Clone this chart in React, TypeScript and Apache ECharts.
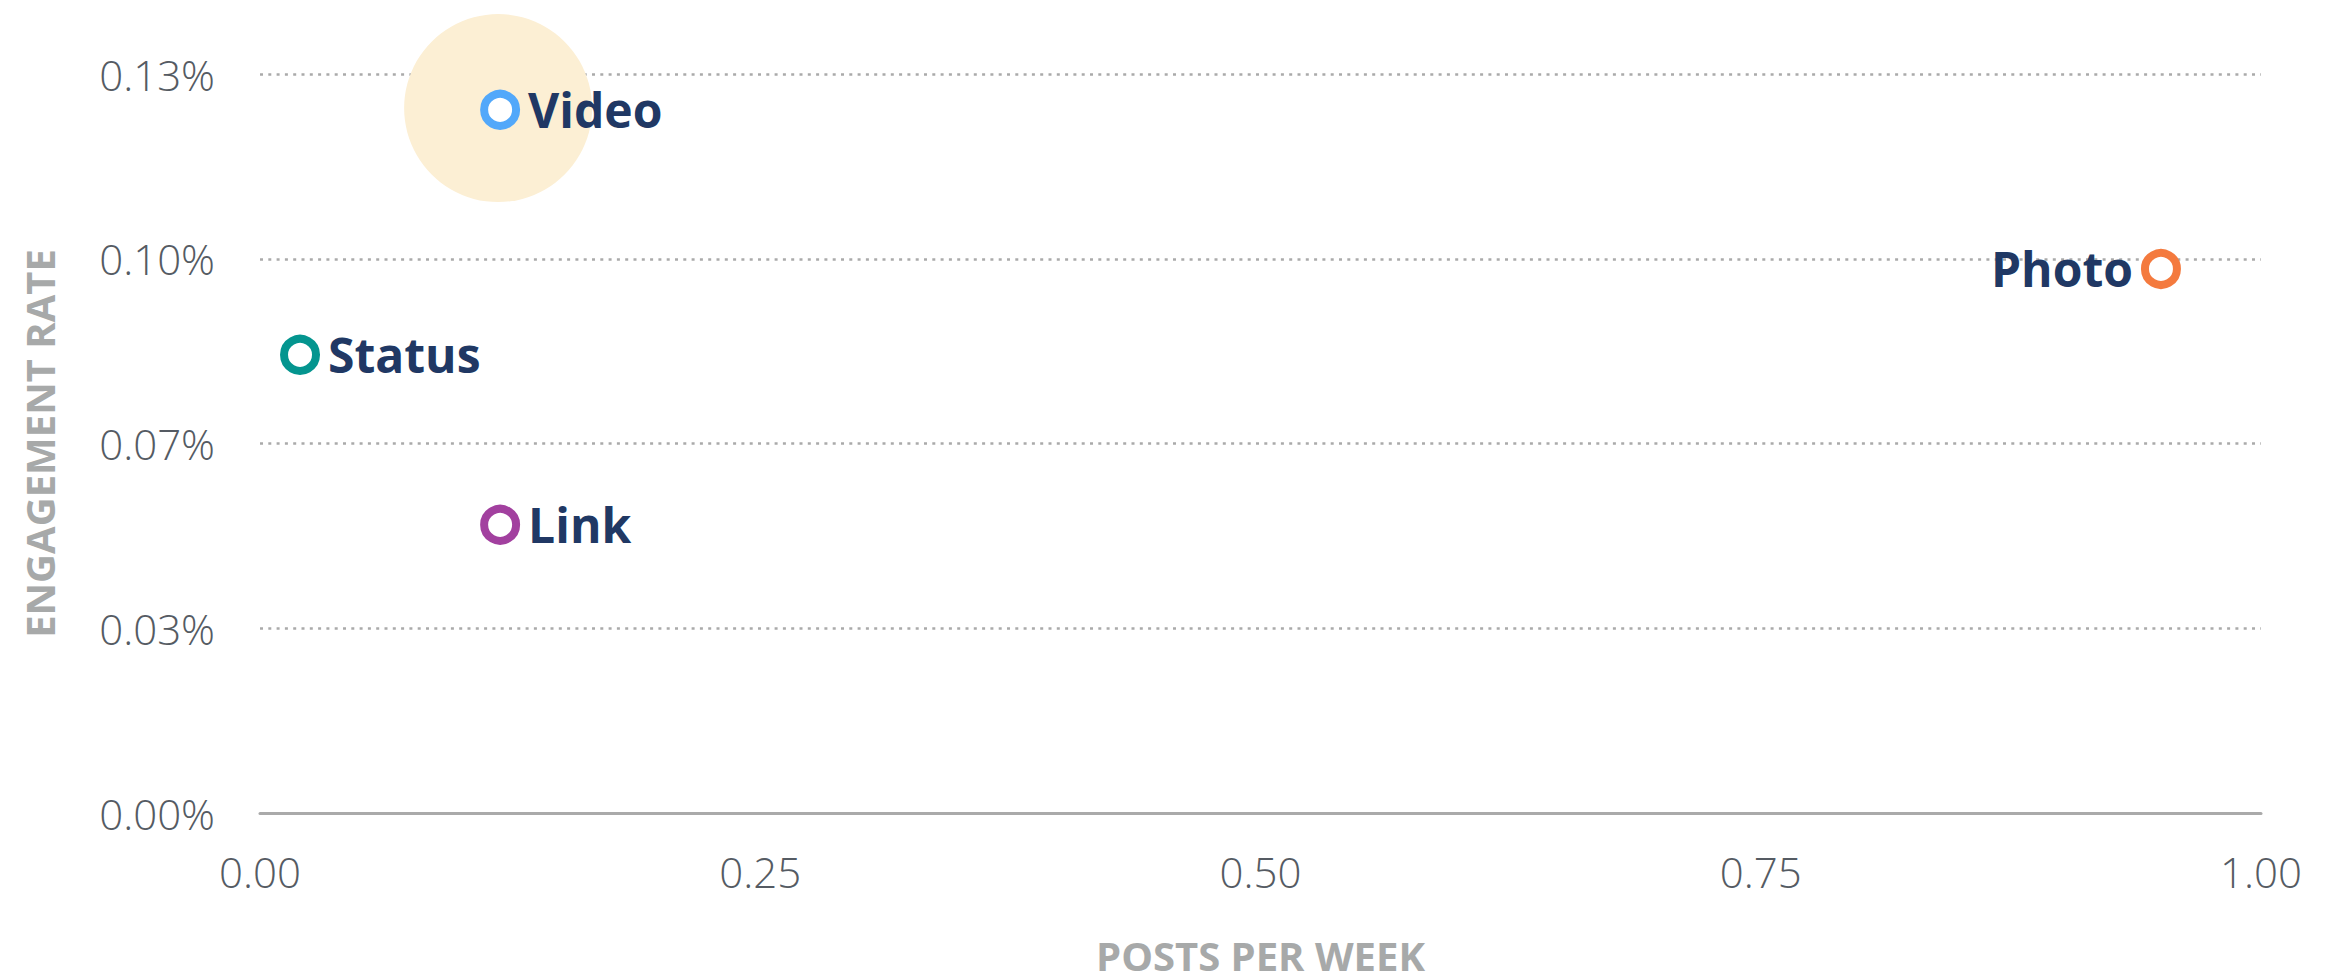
import React, { useEffect, useRef } from "react";
import * as echarts from "echarts";

// ---- data ----
const categories = ["Video", "Photo", "Status", "Link"];
const postsPerWeek = [0.12, 0.95, 0.02, 0.12];
const engagementRate = [0.1237, 0.0957, 0.0806, 0.0507];
const labelSide = ["right", "left", "right", "right"];

const highlightX = [0.119];
const highlightY = [0.124];

const xTickLabels = ["0.00", "0.25", "0.50", "0.75", "1.00"];
const yTickLabels = ["0.00%", "0.03%", "0.07%", "0.10%", "0.13%"];

const xMin = 0;
const xMax = 1;
const xInterval = 0.25;
const yMin = 0;
const yMax = 0.13;
const yInterval = 0.0325;

// ---- style ----
const ringColors = ["#52a8fa", "#f47a3e", "#04958f", "#a2409f"];
const labelColor = "#203864";
const tickColor = "#555b63";
const titleColor = "#a7a9a9";
const gridColor = "#aaaaaa";
const bubbleColor = "#fcefd4";
const FONT = "'Open Sans', 'Noto Sans', sans-serif";

export default function App() {
  const ref = useRef<HTMLDivElement>(null);

  useEffect(() => {
    if (!ref.current) return;
    const chart = echarts.init(ref.current, null, { renderer: "svg" });

    const pointData = categories.map((name, i) => ({
      name,
      value: [postsPerWeek[i], engagementRate[i]],
      itemStyle: {
        color: "#ffffff",
        borderColor: ringColors[i],
        borderWidth: 8,
        opacity: 1,
      },
      label: { position: labelSide[i] },
    }));

    const bubbleData = highlightX.map((x, i) => ({ value: [x, highlightY[i]] }));

    chart.setOption({
      animation: false,
      backgroundColor: "#ffffff",
      grid: { left: 260, right: 67, top: 74, bottom: 159, containLabel: false },
      xAxis: {
        type: "value",
        min: xMin,
        max: xMax,
        interval: xInterval,
        name: "POSTS PER WEEK",
        nameLocation: "middle",
        nameGap: 127,
        nameTextStyle: {
          fontFamily: FONT,
          fontWeight: "bold",
          fontSize: 40,
          lineHeight: 30,
          color: titleColor,
        },
        axisLine: { show: true, lineStyle: { color: gridColor, width: 3 } },
        axisTick: { show: false },
        splitLine: { show: false },
        axisLabel: {
          margin: 37,
          fontFamily: FONT,
          fontWeight: 300,
          fontSize: 42,
          color: tickColor,
          formatter: (v: number) => xTickLabels[Math.round((v - xMin) / xInterval)] ?? "",
        },
      },
      yAxis: {
        type: "value",
        min: yMin,
        max: yMax,
        interval: yInterval,
        name: "ENGAGEMENT RATE",
        nameLocation: "middle",
        nameGap: 201,
        nameTextStyle: { fontFamily: FONT, fontWeight: "bold", fontSize: 40, color: titleColor },
        axisLine: { show: false },
        axisTick: { show: false },
        splitLine: {
          show: true,
          lineStyle: { color: gridColor, width: 2.5, type: [3, 5.3] },
        },
        axisLabel: {
          margin: 45,
          fontFamily: FONT,
          fontWeight: 300,
          fontSize: 42,
          color: tickColor,
          formatter: (v: number) => yTickLabels[Math.round((v - yMin) / yInterval)] ?? "",
        },
      },
      series: [
        {
          type: "scatter",
          z: 1,
          silent: true,
          symbol: "circle",
          symbolSize: 188,
          itemStyle: { color: bubbleColor, opacity: 1 },
          data: bubbleData,
        },
        {
          type: "scatter",
          z: 3,
          symbol: "circle",
          symbolSize: 32,
          itemStyle: { opacity: 1 },
          label: {
            show: true,
            formatter: "{b}",
            distance: 8,
            fontFamily: FONT,
            fontWeight: "bold",
            fontSize: 48,
            color: labelColor,
            opacity: 1,
          },
          data: pointData,
        },
      ],
    });

    return () => chart.dispose();
  }, []);

  return (
    <div
      ref={ref}
      style={{ position: "fixed", left: 0, top: 0, width: 2328, height: 980, background: "#fff" }}
    />
  );
}
